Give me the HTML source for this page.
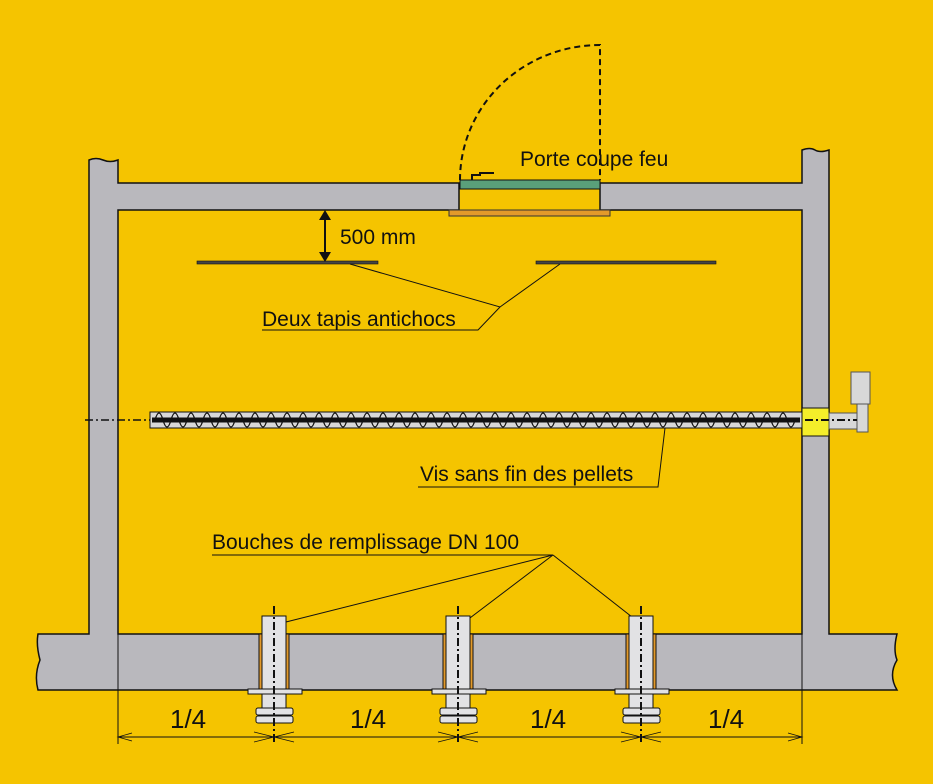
<!DOCTYPE html>
<html><head><meta charset="utf-8"><style>body{margin:0;background:#f5c400}svg{display:block}text{font-family:"Liberation Sans",sans-serif;fill:#111}</style></head><body>
<svg width="933" height="784" viewBox="0 0 933 784" xmlns="http://www.w3.org/2000/svg">
<rect width="933" height="784" fill="#f5c400"/>
<g fill="#b9b8bd" stroke="#111" stroke-width="1.5">
<path d="M38,634 H89 V160 Q96,157 103,160 T118,160 V183 H459 V210 H118 V634 H802 V210 H600 V183 H802 V150 Q810,147 815,150 T829,150 V634 H897 Q893,650 897,660 Q888,675 897,690 H38 Q34,675 40,660 Q36,645 38,634 Z"/>
</g>
<rect x="802" y="408" width="27" height="28" fill="#f5ee2a" stroke="#111"/>
<line x1="118" y1="634" x2="118" y2="744" stroke="#111"/>
<line x1="802" y1="634" x2="802" y2="744" stroke="#111"/>
<!-- door -->
<rect x="460" y="180" width="140" height="9" fill="#5aa07a" stroke="#111"/>
<rect x="449" y="210" width="161" height="6" fill="#e39a2a" stroke="#333"/>
<path d="M472,180 V175 H480 V173 H494" fill="none" stroke="#111" stroke-width="2"/>
<path d="M460,180 A140,135 0 0 1 600,45 V180" fill="none" stroke="#111" stroke-width="2" stroke-dasharray="6,4"/>
<text x="520" y="166" font-size="21">Porte coupe feu</text>
<!-- tapis -->
<rect x="197" y="261" width="181" height="3" fill="#444" stroke="#111" stroke-width="0.6"/>
<rect x="536" y="261" width="180" height="3" fill="#444" stroke="#111" stroke-width="0.6"/>
<line x1="325" y1="218" x2="325" y2="254" stroke="#111" stroke-width="2"/>
<path d="M319,220 L325,210 L331,220 Z M319,252 L325,262 L331,252 Z" fill="#111"/>
<text x="340" y="244" font-size="21">500 mm</text>
<path d="M350,264 L500,307 L560,264 M500,307 L478,330 H262" fill="none" stroke="#111"/>
<text x="262" y="326" font-size="21">Deux tapis antichocs</text>
<!-- screw -->
<line x1="85" y1="420" x2="150" y2="420" stroke="#111" stroke-width="1.5" stroke-dasharray="8,3,2,3"/>
<rect x="150" y="412" width="652" height="16" fill="#d8d8d8" stroke="#111"/>
<line x1="152" y1="420" x2="800" y2="420" stroke="#111" stroke-width="5"/>
<path d="M155,420 q4,-14 8,0 t8,0 t8,0 t8,0 t8,0 t8,0 t8,0 t8,0 t8,0 t8,0 t8,0 t8,0 t8,0 t8,0 t8,0 t8,0 t8,0 t8,0 t8,0 t8,0 t8,0 t8,0 t8,0 t8,0 t8,0 t8,0 t8,0 t8,0 t8,0 t8,0 t8,0 t8,0 t8,0 t8,0 t8,0 t8,0 t8,0 t8,0 t8,0 t8,0 t8,0 t8,0 t8,0 t8,0 t8,0 t8,0 t8,0 t8,0 t8,0 t8,0 t8,0 t8,0 t8,0 t8,0 t8,0 t8,0 t8,0 t8,0 t8,0 t8,0 t8,0 t8,0 t8,0 t8,0 t8,0 t8,0 t8,0 t8,0 t8,0 t8,0 t8,0 t8,0 t8,0 t8,0 t8,0 t8,0 t8,0 t8,0 t8,0 t8,0" fill="none" stroke="#111" stroke-width="1.3"/>
<rect x="829" y="413" width="28" height="16" fill="#d8d8d8" stroke="#555"/>
<rect x="851" y="372" width="19" height="32" fill="#d8d8d8" stroke="#555"/>
<rect x="857" y="404" width="11" height="28" fill="#d8d8d8" stroke="#555"/>
<line x1="805" y1="420" x2="857" y2="420" stroke="#111" stroke-width="2" stroke-dasharray="8,3,2,3"/>
<path d="M665,428 L658,487 H418" fill="none" stroke="#111"/>
<text x="420" y="481" font-size="21">Vis sans fin des pellets</text>
<!-- bouches -->
<text x="212" y="549" font-size="21">Bouches de remplissage  DN 100</text>
<path d="M212,555 H553 L278,624 M553,555 L462,624 M553,555 L641,624" fill="none" stroke="#111"/>
<g id="p" stroke="#111">
<rect x="259" y="634" width="30" height="56" fill="#e39a2a"/>
<rect x="262" y="616" width="24" height="92" fill="#e2e2e4"/>
<rect x="248" y="689" width="54" height="5" fill="#e2e2e4"/>
<rect x="256" y="708" width="37" height="7" rx="2" fill="#e2e2e4"/>
<rect x="256" y="716" width="37" height="7" rx="2" fill="#e2e2e4"/>
<line x1="274" y1="606" x2="274" y2="745" stroke-width="2" stroke-dasharray="8,3,2,3"/>
<path d="M254,732 L294,742 M254,742 L294,732" stroke-width="0.8" fill="none"/>
</g>
<use href="#p" x="184"/>
<use href="#p" x="367"/>
<!-- dimension -->
<line x1="118" y1="737" x2="802" y2="737" stroke="#111"/>
<path d="M132,733 L118,737 L132,741 M788,733 L802,737 L788,741" fill="none" stroke="#111" stroke-width="0.8"/>
<g font-size="26"><text x="170" y="728">1/4</text><text x="350" y="728">1/4</text><text x="530" y="728">1/4</text><text x="708" y="728">1/4</text></g>
</svg>
</body></html>
